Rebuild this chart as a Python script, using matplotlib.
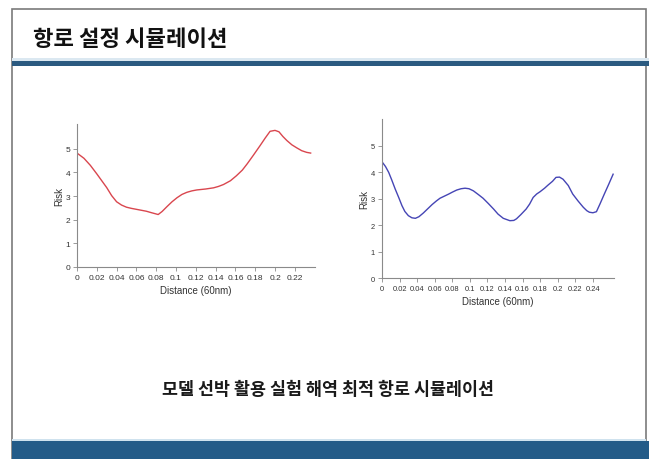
import matplotlib
matplotlib.use('Agg')
import matplotlib.pyplot as plt
from matplotlib.patches import Rectangle

plt.rcParams['font.family'] = ['Noto Sans CJK KR', 'DejaVu Sans']

# Slide texts
slide_title = '항로 설정 시뮬레이션'
caption = '모델 선박 활용 실험 해역 최적 항로 시뮬레이션'
x_label = 'Distance (60nm)'
y_label = 'Risk'

# Left chart (red)
left_x = [0, 0.007, 0.0135, 0.02, 0.025, 0.03, 0.035, 0.04, 0.045, 0.05, 0.055, 0.06,
          0.065, 0.07, 0.075, 0.082, 0.086, 0.091, 0.096, 0.101, 0.106, 0.111, 0.116,
          0.121, 0.13, 0.138, 0.143, 0.148, 0.155, 0.161, 0.167, 0.172, 0.178, 0.185,
          0.19, 0.195, 0.2, 0.204, 0.208, 0.212, 0.217, 0.222, 0.227, 0.232, 0.236]
left_y = [4.82, 4.6, 4.3, 3.94, 3.65, 3.36, 3.02, 2.76, 2.62, 2.53, 2.48, 2.44,
          2.4, 2.36, 2.3, 2.22, 2.35, 2.56, 2.76, 2.93, 3.07, 3.16, 3.22,
          3.26, 3.3, 3.35, 3.41, 3.49, 3.65, 3.86, 4.1, 4.37, 4.72, 5.14,
          5.45, 5.74, 5.78, 5.72, 5.52, 5.35, 5.17, 5.04, 4.92, 4.85, 4.82]

# Right chart (blue)
right_x = [0, 0.004, 0.0076, 0.011, 0.015, 0.019, 0.0227, 0.026, 0.03, 0.034, 0.038,
           0.042, 0.047, 0.052, 0.057, 0.062, 0.066, 0.071, 0.076, 0.08, 0.085, 0.09,
           0.0945, 0.099, 0.104, 0.11, 0.115, 0.121, 0.127, 0.132, 0.138, 0.1455,
           0.15, 0.153, 0.158, 0.164, 0.168, 0.172, 0.176, 0.18, 0.185, 0.189, 0.194,
           0.198, 0.202, 0.206, 0.212, 0.217, 0.223, 0.229, 0.233, 0.236, 0.24, 0.244,
           0.248, 0.253, 0.258, 0.263]
right_y = [4.4, 4.22, 4.0, 3.72, 3.37, 3.05, 2.74, 2.52, 2.36, 2.28, 2.26,
           2.32, 2.46, 2.62, 2.78, 2.92, 3.02, 3.1, 3.18, 3.25, 3.33, 3.38,
           3.4, 3.38, 3.3, 3.15, 3.02, 2.82, 2.61, 2.42, 2.26, 2.17,
           2.18, 2.24, 2.4, 2.61, 2.8, 3.05, 3.18, 3.27, 3.4, 3.52, 3.66,
           3.81, 3.82, 3.74, 3.5, 3.18, 2.92, 2.68, 2.55, 2.49, 2.47, 2.51,
           2.8, 3.18, 3.55, 3.93]

left_ticks = [0, 0.02, 0.04, 0.06, 0.08, 0.1, 0.12, 0.14, 0.16, 0.18, 0.2, 0.22]
right_ticks = [0, 0.02, 0.04, 0.06, 0.08, 0.1, 0.12, 0.14, 0.16, 0.18, 0.2, 0.22, 0.24]
y_ticks = [0, 1, 2, 3, 4, 5]

W, H = 649, 460
fig = plt.figure(figsize=(W / 100, H / 100), dpi=100)
fig.patch.set_facecolor('white')

def px_rect(x0, y0, x1, y1, **kw):
    # rectangle given in pixel coords from the top-left corner
    fig.patches.append(Rectangle((x0 / W, 1 - y1 / H), (x1 - x0) / W, (y1 - y0) / H,
                                 transform=fig.transFigure, **kw))

# slide frame and bars
px_rect(11.5, 9.5, 646, 470, fill=False, edgecolor='#7a7a7a', linewidth=1.2)
px_rect(12, 58.5, 649, 61.5, facecolor='#dbe8f1', edgecolor='none')
px_rect(12, 61.5, 649, 67, facecolor='#2b5a80', edgecolor='none')
px_rect(12, 439.5, 646, 442, facecolor='#cfe2ee', edgecolor='none')
px_rect(12, 442, 649, 460, facecolor='#235b88', edgecolor='none')

fig.text(33 / W, 1 - 40 / H, slide_title, fontsize=16, fontweight='bold',
         ha='left', va='center', color='#111111')
fig.text(328 / W, 1 - 390 / H, caption, fontsize=12.5, fontweight='bold',
         ha='center', va='center', color='#1a1a1a')

narrow = ['Liberation Sans', 'DejaVu Sans']


def style_axes(ax, xticks, xmax, ymax, tick_size):
    ax.set_xlim(0, xmax)
    ax.set_ylim(0, ymax)
    ax.set_xticks(xticks)
    ax.set_xticklabels([('%g' % t) for t in xticks], fontfamily=narrow, fontsize=tick_size)
    ax.set_yticks(y_ticks)
    ax.set_yticklabels([str(t) for t in y_ticks], fontfamily=narrow, fontsize=tick_size)
    for s in ['top', 'right']:
        ax.spines[s].set_visible(False)
    for s in ['left', 'bottom']:
        ax.spines[s].set_color('#8a8a8a')
        ax.spines[s].set_linewidth(0.8)
    ax.tick_params(length=3, width=0.6, color='#8a8a8a', labelcolor='#333333', pad=2)
    ax.set_xlabel(x_label, fontfamily=narrow, fontsize=7, color='#333333', labelpad=3)
    ax.set_ylabel(y_label, fontfamily=narrow, fontsize=7, color='#333333', labelpad=1)
    ax.set_facecolor('none')


ax1 = fig.add_axes([77 / W, 1 - 268 / H, 238 / W, 143 / H])
ax1.plot(left_x, left_y, color='#d9464e', linewidth=1.0)
style_axes(ax1, left_ticks, 0.2404, 6.05, 6)

ax2 = fig.add_axes([382 / W, 1 - 279 / H, 232 / W, 159 / H])
ax2.plot(right_x, right_y, color='#4545b5', linewidth=1.0)
style_axes(ax2, right_ticks, 0.264, 6.02, 5.4)

fig.savefig('out.png', dpi=100, facecolor='white')
